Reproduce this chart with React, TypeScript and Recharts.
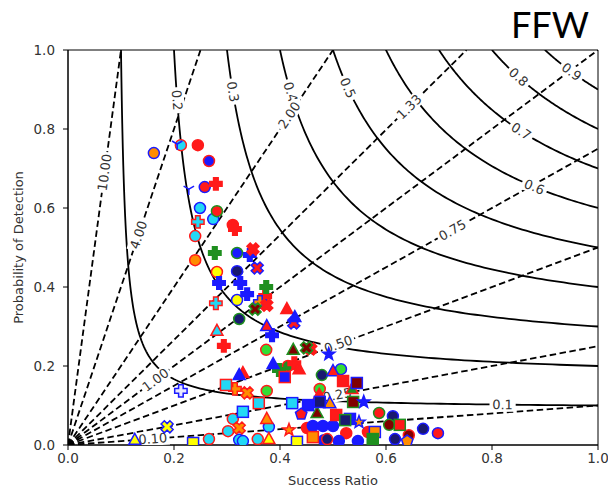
import React from "react";
import { ComposedChart, Line, Scatter, XAxis, YAxis, ReferenceArea } from "recharts";

document.body.style.margin = "0";

type Pt = [number, number];

// performance diagram background
const csiLevels = [0.1, 0.2, 0.3, 0.4, 0.5, 0.6, 0.7, 0.8, 0.9];
const csiLabelSR = [0.82, 0.206, 0.311, 0.42, 0.528, 0.88, 0.855, 0.85, 0.95];
const biasLevels = [0.1, 0.25, 0.5, 0.75, 1, 1.33, 2, 4, 10];
const biasLabelText = ["0.10", "0.25", "0.50", "0.75", "1.00", "1.33", "2.00", "4.00", "10.00"];
const biasLabelPOD = [0.016, 0.127, 0.255, 0.544, 0.165, 0.856, 0.835, 0.532, 0.69];
const axisTicks = [0, 0.2, 0.4, 0.6, 0.8, 1.0];

// scores, [success ratio, POD]
const circOrangeBlue: Pt[] = [[0.162, 0.739]];
const circCyanRed: Pt[] = [[0.213, 0.759], [0.24, 0.529], [0.311, 0.066], [0.302, 0.035], [0.266, 0.015], [0.358, 0.015]];
const circRed: Pt[] = [[0.245, 0.759], [0.311, 0.557], [0.451, 0.043], [0.525, 0.03], [0.566, 0.033]];
const circBlueRed: Pt[] = [[0.266, 0.719]];
const circRedBlue: Pt[] = [[0.258, 0.653], [0.698, 0.03]];
const circCyanBlue: Pt[] = [[0.249, 0.6], [0.274, 0.572], [0.323, 0.013], [0.33, 0.01], [0.379, 0.046]];
const circRedGreen: Pt[] = [[0.281, 0.592], [0.587, 0.081]];
const circOrangeRed: Pt[] = [[0.24, 0.468]];
const circBlueGreen: Pt[] = [[0.319, 0.486]];
const circYellowRed: Pt[] = [[0.281, 0.438]];
const circNavyBlue: Pt[] = [[0.319, 0.44], [0.613, 0.073], [0.67, 0.041], [0.617, 0.015]];
const circYellowBlue: Pt[] = [[0.319, 0.367]];
const circNavyGreen: Pt[] = [[0.323, 0.319], [0.479, 0.177]];
const circLimeRed: Pt[] = [[0.374, 0.241], [0.375, 0.137], [0.475, 0.142]];
const circLimeBlue: Pt[] = [[0.515, 0.192]];
const circGreenRed: Pt[] = [[0.415, 0.2]];
const circBlue: Pt[] = [[0.462, 0.048], [0.481, 0.048], [0.5, 0.048], [0.483, 0.012], [0.511, 0.01], [0.547, 0.01]];
const circMaroonGreen: Pt[] = [[0.606, 0.051]];
const circNavyRed: Pt[] = [[0.489, 0.015]];
const circMaroonRed: Pt[] = [[0.643, 0.025]];

const plusRed: Pt[] = [[0.279, 0.661], [0.315, 0.547], [0.294, 0.251], [0.372, 0.377], [0.427, 0.207]];
const plusGreen: Pt[] = [[0.277, 0.486], [0.374, 0.4], [0.398, 0.19]];
const plusBlue: Pt[] = [[0.343, 0.481], [0.285, 0.41], [0.325, 0.41], [0.338, 0.382], [0.385, 0.278]];
const plusCyanRed: Pt[] = [[0.245, 0.565], [0.279, 0.359]];
const plusOrangeBlue: Pt[] = [[0.362, 0.362]];
const plusOrangeRed: Pt[] = [[0.315, 0.142]];
const plusWhiteBlue: Pt[] = [[0.213, 0.137]];

const xRed: Pt[] = [[0.349, 0.496], [0.375, 0.354], [0.458, 0.243]];
const xRedBlue: Pt[] = [[0.357, 0.448], [0.426, 0.309]];
const xMaroonGreen: Pt[] = [[0.353, 0.344], [0.45, 0.246]];
const xOrangeRed: Pt[] = [[0.338, 0.132], [0.323, 0.043]];
const xYellowBlue: Pt[] = [[0.187, 0.046]];

const triRed: Pt[] = [[0.413, 0.344], [0.436, 0.192], [0.33, 0.182], [0.474, 0.127]];
const triBlue: Pt[] = [[0.428, 0.324], [0.387, 0.205], [0.323, 0.177]];
const triCyanRed: Pt[] = [[0.281, 0.289]];
const triRedBlue: Pt[] = [[0.375, 0.301], [0.5, 0.187]];
const triMaroonGreen: Pt[] = [[0.425, 0.241], [0.47, 0.081]];
const triGreenRed: Pt[] = [[0.536, 0.142]];
const triOrangeRed: Pt[] = [[0.375, 0.066]];
const triYellowRed: Pt[] = [[0.379, 0.015]];
const triYellowBlue: Pt[] = [[0.126, 0.013]];
const triOrangeBlue: Pt[] = [[0.494, 0.106]];

const sqBlueRed: Pt[] = [[0.409, 0.172]];
const sqCyanRed: Pt[] = [[0.298, 0.152], [0.36, 0.106]];
const sqCyanBlue: Pt[] = [[0.423, 0.106], [0.33, 0.084]];
const sqBlue: Pt[] = [[0.453, 0.101], [0.532, 0.066]];
const sqMaroonBlue: Pt[] = [[0.545, 0.157]];
const sqMaroonGreen: Pt[] = [[0.538, 0.109]];
const sqNavyBlue: Pt[] = [[0.475, 0.109]];
const sqRed: Pt[] = [[0.506, 0.076], [0.519, 0.162]];
const sqNavyGreen: Pt[] = [[0.523, 0.063]];
const sqRedGreen: Pt[] = [[0.626, 0.051]];
const sqYellowBlue: Pt[] = [[0.236, 0.005], [0.432, 0.008]];
const sqOrangeRed: Pt[] = [[0.462, 0.02]];
const sqOrangeBlue: Pt[] = [[0.579, 0.033]];
const sqGreen: Pt[] = [[0.575, 0.015]];

const starBlue: Pt[] = [[0.492, 0.23], [0.558, 0.109]];
const starOrangeBlue: Pt[] = [[0.549, 0.058]];
const starOrangeRed: Pt[] = [[0.417, 0.038]];

const pentRedBlue: Pt[] = [[0.44, 0.078]];
const pentOrangeBlue: Pt[] = [[0.64, 0.01]];

const triDownBlue: Pt[] = [[0.206, 0.762], [0.228, 0.648]];

const RED = "#ff1a1a";
const BLUE = "#1a1aff";
const CYAN = "#22d8f5";
const ORANGE = "#ff8c00";
const YELLOW = "#ffff00";
const NAVY = "#191970";
const GREEN = "#1f8f1f";
const LIME = "#33dd33";
const MAROON = "#800000";
const WHITE = "#e8e8ff";

const layers = [
  { data: circOrangeBlue, shape: "o", fill: ORANGE, stroke: BLUE },
  { data: circCyanRed, shape: "o", fill: CYAN, stroke: RED },
  { data: circRed, shape: "o", fill: RED, stroke: RED },
  { data: circBlueRed, shape: "o", fill: BLUE, stroke: RED },
  { data: circRedBlue, shape: "o", fill: RED, stroke: BLUE },
  { data: circCyanBlue, shape: "o", fill: CYAN, stroke: BLUE },
  { data: circRedGreen, shape: "o", fill: RED, stroke: GREEN },
  { data: circOrangeRed, shape: "o", fill: ORANGE, stroke: RED },
  { data: circBlueGreen, shape: "o", fill: BLUE, stroke: GREEN },
  { data: circYellowRed, shape: "o", fill: YELLOW, stroke: RED },
  { data: circNavyBlue, shape: "o", fill: NAVY, stroke: BLUE },
  { data: circYellowBlue, shape: "o", fill: YELLOW, stroke: BLUE },
  { data: circNavyGreen, shape: "o", fill: NAVY, stroke: GREEN },
  { data: circLimeRed, shape: "o", fill: LIME, stroke: RED },
  { data: circLimeBlue, shape: "o", fill: LIME, stroke: BLUE },
  { data: circGreenRed, shape: "o", fill: GREEN, stroke: RED },
  { data: circBlue, shape: "o", fill: BLUE, stroke: BLUE },
  { data: circMaroonGreen, shape: "o", fill: MAROON, stroke: GREEN },
  { data: circNavyRed, shape: "o", fill: NAVY, stroke: RED },
  { data: circMaroonRed, shape: "o", fill: MAROON, stroke: RED },
  { data: plusRed, shape: "P", fill: RED, stroke: RED },
  { data: plusGreen, shape: "P", fill: GREEN, stroke: GREEN },
  { data: plusBlue, shape: "P", fill: BLUE, stroke: BLUE },
  { data: plusCyanRed, shape: "P", fill: CYAN, stroke: RED },
  { data: plusOrangeBlue, shape: "P", fill: ORANGE, stroke: BLUE },
  { data: plusOrangeRed, shape: "P", fill: ORANGE, stroke: RED },
  { data: plusWhiteBlue, shape: "P", fill: WHITE, stroke: BLUE },
  { data: xRed, shape: "X", fill: RED, stroke: RED },
  { data: xRedBlue, shape: "X", fill: RED, stroke: BLUE },
  { data: xMaroonGreen, shape: "X", fill: MAROON, stroke: GREEN },
  { data: xOrangeRed, shape: "X", fill: ORANGE, stroke: RED },
  { data: xYellowBlue, shape: "X", fill: YELLOW, stroke: BLUE },
  { data: triRed, shape: "^", fill: RED, stroke: RED },
  { data: triBlue, shape: "^", fill: BLUE, stroke: BLUE },
  { data: triCyanRed, shape: "^", fill: CYAN, stroke: RED },
  { data: triRedBlue, shape: "^", fill: RED, stroke: BLUE },
  { data: triMaroonGreen, shape: "^", fill: MAROON, stroke: GREEN },
  { data: triGreenRed, shape: "^", fill: GREEN, stroke: RED },
  { data: triOrangeRed, shape: "^", fill: ORANGE, stroke: RED },
  { data: triYellowRed, shape: "^", fill: YELLOW, stroke: RED },
  { data: triYellowBlue, shape: "^", fill: YELLOW, stroke: BLUE },
  { data: triOrangeBlue, shape: "^", fill: ORANGE, stroke: BLUE },
  { data: sqBlueRed, shape: "s", fill: BLUE, stroke: RED },
  { data: sqCyanRed, shape: "s", fill: CYAN, stroke: RED },
  { data: sqCyanBlue, shape: "s", fill: CYAN, stroke: BLUE },
  { data: sqBlue, shape: "s", fill: BLUE, stroke: BLUE },
  { data: sqMaroonBlue, shape: "s", fill: MAROON, stroke: BLUE },
  { data: sqMaroonGreen, shape: "s", fill: MAROON, stroke: GREEN },
  { data: sqNavyBlue, shape: "s", fill: NAVY, stroke: BLUE },
  { data: sqRed, shape: "s", fill: RED, stroke: RED },
  { data: sqNavyGreen, shape: "s", fill: NAVY, stroke: GREEN },
  { data: sqRedGreen, shape: "s", fill: RED, stroke: GREEN },
  { data: sqYellowBlue, shape: "s", fill: YELLOW, stroke: BLUE },
  { data: sqOrangeRed, shape: "s", fill: ORANGE, stroke: RED },
  { data: sqOrangeBlue, shape: "s", fill: ORANGE, stroke: BLUE },
  { data: sqGreen, shape: "s", fill: GREEN, stroke: GREEN },
  { data: starBlue, shape: "*", fill: BLUE, stroke: BLUE },
  { data: starOrangeBlue, shape: "*", fill: ORANGE, stroke: BLUE },
  { data: starOrangeRed, shape: "*", fill: ORANGE, stroke: RED },
  { data: pentRedBlue, shape: "p", fill: RED, stroke: BLUE },
  { data: pentOrangeBlue, shape: "p", fill: ORANGE, stroke: BLUE },
  { data: triDownBlue, shape: "1", fill: "none", stroke: BLUE },
];

const PLOT_W = 530;
const PLOT_H = 395;
const deg = (r: number) => (r * 180) / Math.PI;

const csiPod = (c: number, sr: number) => 1 / (1 / c + 1 - 1 / sr);

function csiCurve(c: number) {
  const pts = [];
  for (let i = 0; i <= 160; i++) {
    const t = i / 160;
    const sr = c + (1 - c) * t * t * t;
    pts.push({ sr, pod: Math.min(1, csiPod(c, sr)) });
  }
  return pts;
}

function biasLine(b: number) {
  return [
    { sr: 0, pod: 0 },
    { sr: Math.min(1, 1 / b), pod: Math.min(1, b) },
  ];
}

const contourLabels = [
  ...csiLevels.map((c, i) => {
    const sr = csiLabelSR[i];
    const pod = csiPod(c, sr);
    return { sr, pod, text: String(c), angle: deg(Math.atan(((pod / sr) ** 2 * PLOT_H) / PLOT_W)) };
  }),
  ...biasLevels.map((b, i) => {
    const pod = biasLabelPOD[i];
    return { sr: pod / b, pod, text: biasLabelText[i], angle: -deg(Math.atan((b * PLOT_H) / PLOT_W)) };
  }),
];

function ContourLabel(p: any) {
  const { cx, cy, payload } = p;
  if (cx == null) return null;
  const w = payload.text.length * 7.4 + 4;
  return (
    <g transform={`translate(${cx},${cy}) rotate(${payload.angle})`}>
      <rect x={-w / 2} y={-7} width={w} height={14} fill="#fff" />
      <text x={0} y={0} dy="0.35em" textAnchor="middle" fontSize={13} fill="#333" fontFamily="DejaVu Sans">
        {payload.text}
      </text>
    </g>
  );
}

const polyPts = (pts: number[][]) => pts.map((q) => q.join(",")).join(" ");

function Marker({ cx, cy, shape, fill, stroke }: any) {
  if (cx == null || cy == null) return null;
  const common = { fill, stroke, strokeWidth: 1.5 };
  if (shape === "o") return <circle cx={cx} cy={cy} r={5.5} {...common} />;
  if (shape === "s") return <rect x={cx - 5.5} y={cy - 5.5} width={11} height={11} {...common} />;
  if (shape === "^")
    return <polygon points={polyPts([[cx, cy - 6.5], [cx + 6, cy + 4.5], [cx - 6, cy + 4.5]])} {...common} />;
  if (shape === "P" || shape === "X") {
    const a = 2.3;
    const b = 6.2;
    const pts = [[-a, -b], [a, -b], [a, -a], [b, -a], [b, a], [a, a], [a, b], [-a, b], [-a, a], [-b, a], [-b, -a], [-a, -a]];
    return (
      <polygon
        transform={`translate(${cx},${cy}) rotate(${shape === "X" ? 45 : 0})`}
        points={polyPts(pts)}
        {...common}
      />
    );
  }
  if (shape === "*") {
    const pts = [];
    for (let i = 0; i < 10; i++) {
      const r = i % 2 === 0 ? 6.5 : 2.7;
      const ang = -Math.PI / 2 + (i * Math.PI) / 5;
      pts.push([cx + r * Math.cos(ang), cy + r * Math.sin(ang)]);
    }
    return <polygon points={polyPts(pts)} {...common} />;
  }
  if (shape === "p") {
    const pts = [];
    for (let i = 0; i < 5; i++) {
      const ang = -Math.PI / 2 + (i * 2 * Math.PI) / 5;
      pts.push([cx + 6 * Math.cos(ang), cy + 6 * Math.sin(ang)]);
    }
    return <polygon points={polyPts(pts)} {...common} />;
  }
  // tri_down
  return (
    <g stroke={stroke} strokeWidth={1.5}>
      <line x1={cx} y1={cy} x2={cx} y2={cy + 6} />
      <line x1={cx} y1={cy} x2={cx - 5.2} y2={cy - 3} />
      <line x1={cx} y1={cy} x2={cx + 5.2} y2={cy - 3} />
    </g>
  );
}

const tickStyle = { fontSize: 13.5, fill: "#333", fontFamily: "DejaVu Sans" };

export default function App() {
  return (
    <div style={{ position: "relative", width: 608, height: 488, background: "#fff" }}>
      <ComposedChart width={608} height={488} margin={{ top: 50, right: 10, bottom: 0, left: 0 }}>
        <XAxis
          type="number"
          dataKey="sr"
          domain={[0, 1]}
          ticks={axisTicks}
          tickFormatter={(v) => v.toFixed(1)}
          allowDataOverflow
          height={43}
          tick={tickStyle}
          tickSize={5}
          tickMargin={3}
          stroke="#000"
          label={{ value: "Success Ratio", position: "insideBottom", offset: 3, style: { ...tickStyle, fontSize: 13 } }}
        />
        <YAxis
          type="number"
          dataKey="pod"
          domain={[0, 1]}
          ticks={axisTicks}
          tickFormatter={(v) => v.toFixed(1)}
          allowDataOverflow
          width={68}
          tick={tickStyle}
          tickSize={5}
          tickMargin={8}
          stroke="#000"
          label={{ value: "Probability of Detection", angle: -90, position: "insideLeft", offset: 18, style: { ...tickStyle, fontSize: 13, textAnchor: "middle" } }}
        />
        {csiLevels.map((c) => (
          <Line
            key={`csi${c}`}
            data={csiCurve(c)}
            dataKey="pod"
            stroke="#000"
            strokeWidth={1.8}
            dot={false}
            activeDot={false}
            isAnimationActive={false}
          />
        ))}
        {biasLevels.map((b) => (
          <Line
            key={`bias${b}`}
            data={biasLine(b)}
            dataKey="pod"
            stroke="#000"
            strokeWidth={1.8}
            strokeDasharray="6.5 3.5"
            dot={false}
            activeDot={false}
            isAnimationActive={false}
          />
        ))}
        <Scatter data={contourLabels} shape={ContourLabel} isAnimationActive={false} />
        {layers.map((l, i) => (
          <Scatter
            key={i}
            data={l.data.map(([sr, pod]) => ({ sr, pod }))}
            shape={(p: any) => <Marker cx={p.cx} cy={p.cy} shape={l.shape} fill={l.fill} stroke={l.stroke} />}
            isAnimationActive={false}
          />
        ))}
        <ReferenceArea x1={0} x2={1} y1={0} y2={1} fill="none" stroke="#000" strokeWidth={1} ifOverflow="visible" />
      </ComposedChart>
      <div
        style={{
          position: "absolute",
          left: 511,
          top: 4,
          fontFamily: "Lato",
          fontSize: 36,
          color: "#000",
          lineHeight: "40px",
        }}
      >
        FFW
      </div>
    </div>
  );
}
